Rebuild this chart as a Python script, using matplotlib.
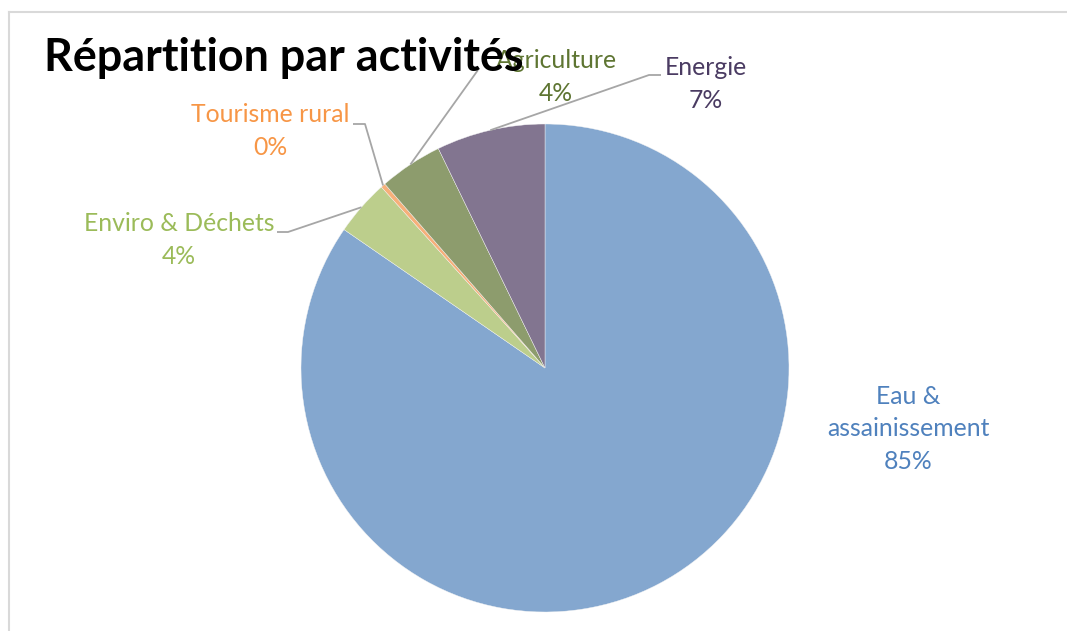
import numpy as np
import matplotlib.pyplot as plt
from matplotlib.lines import Line2D

plt.rcParams['font.family'] = ['Lato', 'DejaVu Sans']

# data
categories = ['Eau &\nassainissement', 'Enviro & Déchets', 'Tourisme rural', 'Agriculture', 'Energie']
values = [84.6, 3.7, 0.3, 4.2, 7.2]
slice_colors = ['#84A7CF', '#BCCE8C', '#F7B07A', '#8D9C6D', '#827590']
text_colors = ['#4F81BD', '#9BBB59', '#F79646', '#5E7532', '#4A3B62']

W, H = 1067, 631
fig = plt.figure(figsize=(W / 100, H / 100), dpi=100)
ax = fig.add_axes([0, 0, 1, 1])

cx, cy, r = 545, H - 368, 244
wedges, _ = ax.pie(values, colors=slice_colors, startangle=90, counterclock=False,
                   center=(cx, cy), radius=r, frame=True,
                   wedgeprops=dict(edgecolor='#F4F4F4', linewidth=0.3))
ax.set_xlim(0, W)
ax.set_ylim(0, H)
ax.axis('off')

# label block centres (pixels from top) and leader elbows
label_pos = [(908, 429), (179, 240), (270, 131), (556, 77), (706, 84)]
leaders = [None,
           [(277, 232), (288, 232)],
           [(353, 124), (365, 124)],
           [(478, 70)],
           [(661, 75), (649, 75)]]

total = sum(values)
for w, name, val, col, (lx, ly), lead in zip(wedges, categories, values, text_colors, label_pos, leaders):
    pct = f'{round(val / total * 100):.0f}%'
    ax.text(lx, H - ly, f'{name}\n{pct}', color=col, fontsize=17.8, ha='center', va='center',
            multialignment='center', linespacing=1.5, zorder=2)
    if lead:
        mid = np.deg2rad((w.theta1 + w.theta2) / 2)
        ex, ey = cx + r * np.cos(mid), cy + r * np.sin(mid)
        xs = [p[0] for p in lead] + [ex]
        ys = [H - p[1] for p in lead] + [ey]
        ax.plot(xs, ys, color='#A6A6A6', lw=1.3, solid_capstyle='butt', zorder=3)

fig.text(44 / W, 1 - 71 / H, 'Répartition par activités', fontsize=32.3, fontweight='bold',
         ha='left', va='baseline', color='black', zorder=5)

# chart frame
fig.add_artist(Line2D([9 / W, 1], [1 - 12 / H, 1 - 12 / H], color='#D9D9D9', lw=1.5))
fig.add_artist(Line2D([9 / W, 9 / W], [0, 1 - 12 / H], color='#D9D9D9', lw=1.5))

fig.savefig('out.png', dpi=100)
